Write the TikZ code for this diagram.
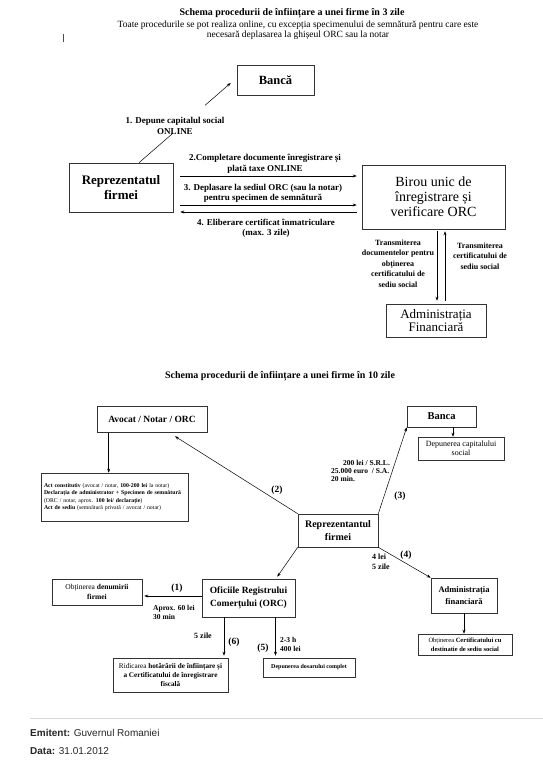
\documentclass[tikz,border=0pt]{standalone}
\usepackage{fontspec}
\setmainfont{Liberation Serif}
\newfontfamily\footfont{Liberation Sans}
\usetikzlibrary{arrows.meta,calc}

\newcommand{\fsz}[2]{\fontsize{#1}{#2}\selectfont}

\tikzset{
  box/.style={draw=black!80, line width=0.6pt, inner sep=1pt, align=center},
  arr/.style={-{Stealth[length=4pt,width=3pt]}, line width=0.5pt},
  lbl/.style={inner sep=0pt, align=center, font=\bfseries\fsz{9}{10.5}},
  vlbl/.style={inner sep=0pt, align=center, font=\bfseries\fsz{8}{10.5}},
  num/.style={inner sep=0pt, font=\bfseries\fsz{9.5}{11}},
  note/.style={inner sep=0pt, align=left, anchor=west, font=\bfseries\fsz{7.5}{9}},
}

\begin{document}
\begin{tikzpicture}[x=1pt,y=-1pt]
\useasboundingbox (0,0) rectangle (543,771);

% Schema in 3 zile
\node[font=\bfseries\fsz{10}{12}] (title1) at (292,13) {Schema procedurii de înființare a unei firme în 3 zile};
\node[font=\fsz{9.5}{9.5}, align=center] (sub1) at (298,30) {Toate procedurile se pot realiza online, cu excepția specimenului de semnătură pentru care este\\necesară deplasarea la ghișeul ORC sau la notar};
\draw[line width=1pt, black!70] (63,34) -- (63,42);

\node[box, minimum width=77, minimum height=30, font=\bfseries\fsz{12.5}{14}] (banca1) at (275.5,80) {Bancă};
\node[box, minimum width=104, minimum height=49, font=\bfseries\fsz{13}{15}] (repr1) at (121,187.5) {Reprezentatul\\firmei};
\node[box, minimum width=143, minimum height=64, font=\fsz{14}{15}] (birou1) at (433.5,197) {Birou unic de\\înregistrare și\\verificare ORC};
\node[box, minimum width=100, minimum height=33, font=\fsz{13}{13.5}] (adm1) at (436,320.5) {Administrația\\Financiară};

% 1. capital social
\coordinate (d1a) at ([xshift=18pt]repr1.north);
\coordinate (d1b) at ([xshift=-6pt,yshift=-3pt]banca1.west);
\draw[line width=0.5pt] (d1a) -- ($(d1a)!0.37!(d1b)$);
\draw[arr] ($(d1a)!0.72!(d1b)$) -- (d1b);
\node[lbl, font=\bfseries\fsz{9}{11}] (l1) at (175,126) {1. Depune capitalul social\\ONLINE};

% 2-4 catre birou
\coordinate (c2) at ([yshift=11.5pt]repr1.east);
\coordinate (c3) at ([yshift=-17.5pt]repr1.east);
\coordinate (c4) at ([yshift=-24.5pt]repr1.east);
\draw[arr, shorten <=7pt, shorten >=5pt] (c2) -- (c2 -| birou1.west);
\draw[arr, shorten <=7pt, shorten >=5pt] (c3) -- (c3 -| birou1.west);
\draw[arr, shorten <=5pt, shorten >=7pt] (c4 -| birou1.west) -- (c4);
\node[lbl] (l2) at (265,164) {2.Completare documente înregistrare și\\plată taxe ONLINE};
\node[lbl] (l3) at (263,193.5) {3. Deplasare la sediul ORC (sau la notar)\\pentru specimen de semnătură};
\node[lbl] (l4) at (266,228.5) {4. Eliberare certificat înmatriculare\\(max. 3 zile)};

% birou <-> administratie
\coordinate (v1) at ([xshift=3.5pt]birou1.south);
\coordinate (v2) at ([xshift=11.5pt]birou1.south);
\draw[arr, shorten <=2pt, shorten >=3pt] (v1) -- (v1 |- adm1.north);
\draw[arr, shorten <=3pt, shorten >=2pt] (v2 |- adm1.north) -- (v2);
\node[vlbl] (l5) at (398,263.5) {Transmiterea\\documentelor pentru\\obținerea\\certificatului de\\sediu social};
\node[vlbl] (l6) at (480,256) {Transmiterea\\certificatului de\\sediu social};

% Schema in 10 zile
\node[font=\bfseries\fsz{10}{12}] (title2) at (280,376) {Schema procedurii de înființare a unei firme în 10 zile};

\node[box, minimum width=110, minimum height=26, font=\bfseries\fsz{9.5}{11}] (avocat) at (152,419.5) {Avocat / Notar / ORC};
\node[box, minimum width=69, minimum height=21, font=\bfseries\fsz{10.5}{12}] (banca2) at (441.5,416.5) {Banca};
\node[box, minimum width=86, minimum height=23, font=\fsz{8}{9}] (depcap) at (461,448.5) {Depunerea capitalului\\social};
\node[box, inner xsep=3pt, text width=141, minimum height=48, align=left, font=\fsz{5.8}{7.6}] (act) at (114.5,497)
  {\textbf{Act constitutiv} (avocat / notar, \textbf{100-200 lei} la notar)\\
   \textbf{Declarația de administrator + Specimen de semnătură}\\
   (ORC / notar, aprox. \textbf{100 lei/ declarație})\\
   \textbf{Act de sediu} (semnătură privată / avocat / notar)};
\node[box, minimum width=80, minimum height=33, font=\bfseries\fsz{10}{13}] (repr2) at (338,530.5) {Reprezentantul\\firmei};
\node[box, minimum width=93, minimum height=38, font=\bfseries\fsz{9.5}{13.5}] (orc) at (248.5,598) {Oficiile Registrului\\Comerțului (ORC)};
\node[box, minimum width=66, minimum height=35, font=\bfseries\fsz{8.5}{12}] (adm2) at (464,595.5) {Administrația\\financiară};
\node[box, minimum width=94, minimum height=21, font=\fsz{6.5}{9}] (obtcert) at (465,644.5) {Obținerea \textbf{Certificatului cu}\\\textbf{destinatie de sediu social}};
\node[box, minimum width=90, minimum height=26, font=\fsz{7.5}{10}] (denum) at (97,592) {Obținerea \textbf{denumirii}\\\textbf{firmei}};
\node[box, minimum width=115, minimum height=34, font=\fsz{7.2}{9}] (ridic) at (170.5,675) {Ridicarea \textbf{hotărârii de înființare și}\\\textbf{a Certificatului de înregistrare}\\\textbf{fiscală}};
\node[box, minimum width=92, minimum height=19, font=\bfseries\fsz{6}{7}] (depdos) at (309,667.5) {Depunerea dosarului complet};

% legaturi
\coordinate (a1) at ([xshift=12pt]avocat.south west);
\draw[arr] (a1) -- (a1 |- act.north);
\draw[arr] (repr2.north west) -- ([xshift=23pt,yshift=-3.5pt]avocat.south);
\draw[arr] (repr2.north east) -- (banca2.south west);
\coordinate (b1) at ([xshift=11.5pt]banca2.south);
\draw[arr] (b1) -- (b1 |- depcap.north);
\draw[arr] (repr2.south west) -- ([xshift=-18pt,yshift=2pt]orc.north east);
\draw[arr] (repr2.south east) -- (adm2.north west);
\draw[arr] (adm2.south) -- (adm2.south |- obtcert.north);
\coordinate (o1) at ([yshift=2pt]orc.west);
\draw[arr, shorten >=2pt] (o1) -- (o1 -| denum.east);
\coordinate (o6) at ([xshift=-24.5pt]orc.south);
\draw[arr, shorten >=2pt] (o6) -- (o6 |- ridic.north);
\coordinate (o5) at ([xshift=27pt]orc.south);
\draw[arr, shorten >=2pt] (o5) -- (o5 |- depdos.north);

% etichete
\node[num] (n1) at (177,588) {(1)};
\node[num] (n2) at (277,490) {(2)};
\node[num] (n3) at (400,496) {(3)};
\node[num] (n4) at (406,555) {(4)};
\node[num] (n5) at (263,648) {(5)};
\node[num] (n6) at (234,642) {(6)};
\node[note] (t1) at (153,612.5) {Aprox. 60 lei\\30 min};
\node[note, font=\bfseries\fsz{7.5}{8.3}] (t3) at (331,471) {\hspace*{12pt}200 lei / S.R.L.\\25.000 euro\ \ / S.A.\\20 min.};
\node[note, font=\bfseries\fsz{8}{10}] (t4) at (372,562) {4 lei\\5 zile};
\node[lbl, font=\bfseries\fsz{8}{10}] (t6) at (203,636) {5 zile};
\node[note] (t5) at (280,644) {2-3 h\\400 lei};

% subsol
\draw[black!15, line width=0.8pt] (30,718) -- (543,718);
\node[anchor=west, inner sep=0pt, text=black!85, font=\footfont\fsz{10}{12}] (emit) at (30,733) {\textbf{Emitent:} Guvernul Romaniei};
\node[anchor=west, inner sep=0pt, text=black!85, font=\footfont\fsz{10}{12}] (data) at (30,751) {\textbf{Data:} 31.01.2012};
\end{tikzpicture}
\end{document}
